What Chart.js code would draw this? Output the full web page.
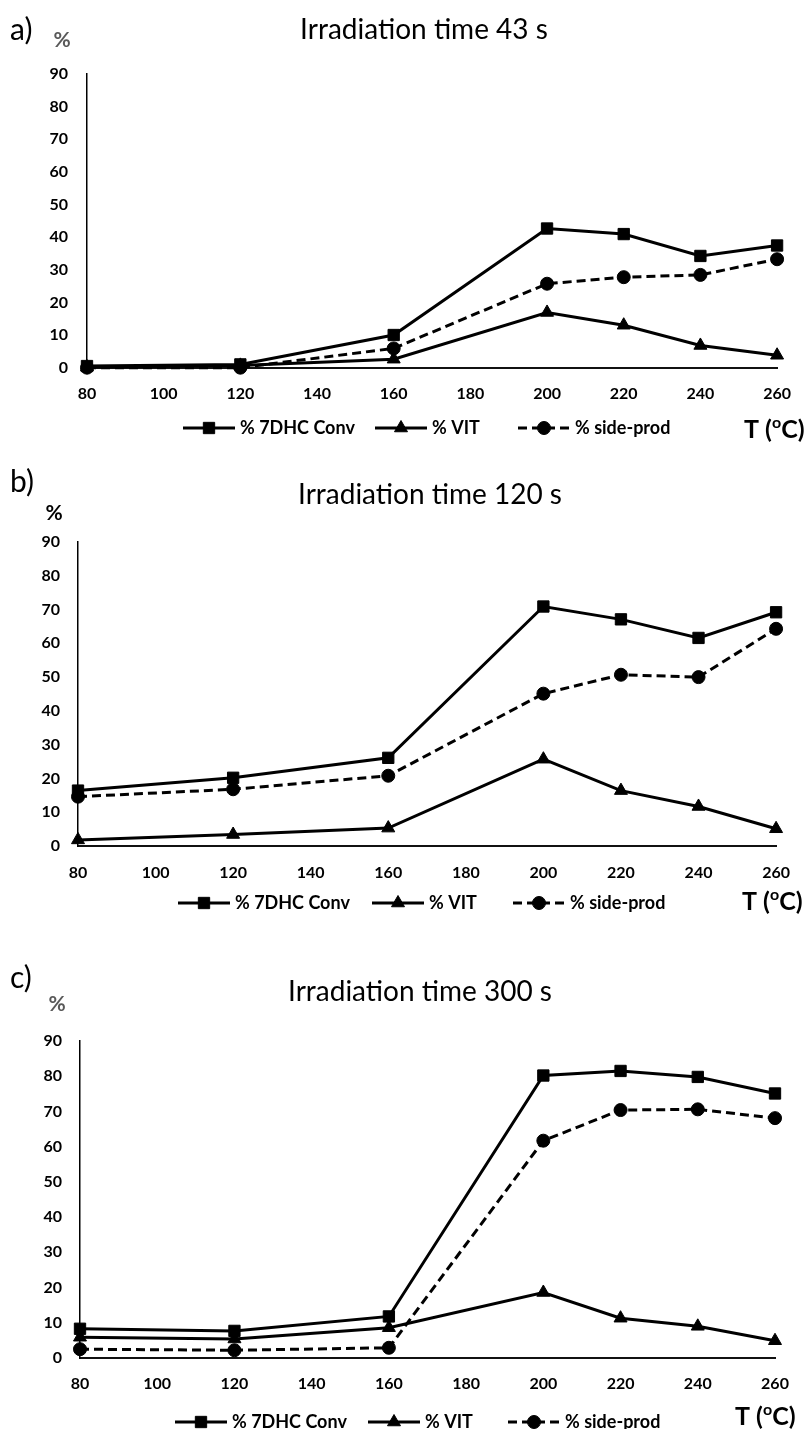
<!DOCTYPE html>
<html>
<head>
<meta charset="utf-8">
<script src="https://cdn.jsdelivr.net/npm/chart.js@4.4.1/dist/chart.umd.min.js"></script>
<style>
  body { margin: 0; background: #fff; }
  #wrap { position: relative; width: 807px; height: 1429px; }
  canvas { position: absolute; left: 0; }
</style>
</head>
<body>
<div id="wrap">
  <canvas id="chart-a" width="807" height="460" style="top:0px"></canvas>
  <canvas id="chart-b" width="807" height="490" style="top:460px"></canvas>
  <canvas id="chart-c" width="807" height="479" style="top:950px"></canvas>
</div>
<script>
'use strict';

// sample temperatures (ºC)
var temps = [80, 120, 160, 200, 220, 240, 260];
var seriesNames = ['% 7DHC Conv', '% VIT', '% side-prod'];
var titles = ['Irradiation time 43 s', 'Irradiation time 120 s', 'Irradiation time 300 s'];
var panelTags = ['a)', 'b)', 'c)'];

// a) 43 s
var conv43 = [0.6, 1.1, 10.1, 42.7, 41.0, 34.3, 37.5];
var vit43 = [0.3, 0.8, 2.7, 17.0, 13.1, 6.9, 3.9];
var side43 = [0.1, 0.1, 6.0, 25.8, 27.8, 28.5, 33.3];

// b) 120 s
var conv120 = [16.4, 20.2, 26.1, 70.9, 67.1, 61.6, 69.2];
var vit120 = [1.8, 3.4, 5.3, 25.7, 16.4, 11.7, 5.1];
var side120 = [14.6, 16.8, 20.8, 45.1, 50.7, 50.0, 64.3];

// c) 300 s
var conv300 = [8.3, 7.7, 11.8, 80.2, 81.5, 79.8, 75.1];
var vit300 = [5.9, 5.4, 8.6, 18.6, 11.3, 9.0, 4.9];
var side300 = [2.5, 2.2, 2.9, 61.7, 70.4, 70.6, 68.1];

// axis ranges
var xMin = 80, xMax = 260, xStep = 20;
var yMin = 0, yMax = 90, yStep = 10;

var FONT = 'Lato, "Open Sans", sans-serif';

// draws panel tag, title, "%" label, legend and the T (ºC) label
var decorPlugin = {
  id: 'decor',
  afterDraw: function(chart, args, o) {
    var ctx = chart.ctx;
    ctx.save();
    ctx.textBaseline = 'middle';
    ctx.textAlign = 'left';
    ctx.fillStyle = '#000';

    ctx.font = '30px ' + FONT;
    ctx.fillText(o.tag, 10, o.tagY);

    ctx.textAlign = 'center';
    ctx.font = '28px ' + FONT;
    ctx.fillText(o.title, o.titleX, o.titleY);

    ctx.font = 'bold 21px ' + FONT;
    ctx.fillStyle = o.pctColor;
    ctx.fillText('%', o.pctX, o.pctY);

    // legend
    ctx.textAlign = 'left';
    chart.data.datasets.forEach(function(ds, i) {
      var x = o.legendX[i];
      var y = o.legendY;
      ctx.strokeStyle = '#000';
      ctx.fillStyle = '#000';
      ctx.lineWidth = ds.borderWidth;
      ctx.setLineDash(ds.borderDash || []);
      ctx.beginPath();
      ctx.moveTo(x, y);
      ctx.lineTo(x + 52, y);
      ctx.stroke();
      ctx.setLineDash([]);
      ctx.lineWidth = 1;
      Chart.helpers.drawPoint(ctx, {
        pointStyle: ds.pointStyle,
        radius: ds.pointRadius,
        borderWidth: 1,
        rotation: 0
      }, x + 26, y);
      ctx.font = 'bold 18px ' + FONT;
      ctx.fillText(ds.label, x + 57, y);
    });

    // T (ºC)
    ctx.fillStyle = '#000';
    ctx.font = 'bold 25px ' + FONT;
    var tx = o.tX;
    ctx.fillText('T (', tx, o.tY);
    tx += ctx.measureText('T (').width;
    ctx.font = 'bold 16px ' + FONT;
    ctx.fillText('o', tx, o.tY - 7);
    tx += ctx.measureText('o').width;
    ctx.font = 'bold 25px ' + FONT;
    ctx.fillText('C)', tx, o.tY);
    ctx.restore();
  }
};

function toPoints(vals) {
  return temps.map(function(t, i) {
    return { x: t, y: vals[i] };
  });
}

function makeChart(id, idx, conv, vit, side, p) {
  var ctx = document.getElementById(id);
  var base = {
    borderColor: '#000',
    backgroundColor: '#000',
    pointBackgroundColor: '#000',
    pointBorderColor: '#000',
    pointBorderWidth: 1,
    borderWidth: 3,
    tension: 0,
    clip: false
  };
  return new Chart(ctx, {
    type: 'line',
    data: {
      datasets: [
        Object.assign({}, base, { label: seriesNames[0], data: toPoints(conv), pointStyle: 'rect', pointRadius: 8 }),
        Object.assign({}, base, { label: seriesNames[1], data: toPoints(vit), pointStyle: 'triangle', pointRadius: 7.5 }),
        Object.assign({}, base, { label: seriesNames[2], data: toPoints(side), pointStyle: 'circle', pointRadius: 6.5, borderDash: [9, 5] })
      ]
    },
    options: {
      responsive: false,
      animation: false,
      devicePixelRatio: 1,
      layout: {
        padding: { top: p.top, right: 807 - p.right, left: 0, bottom: 0 }
      },
      plugins: {
        legend: { display: false },
        tooltip: { enabled: false },
        decor: {
          tag: panelTags[idx],
          tagY: p.tagY,
          title: titles[idx],
          titleX: p.titleX,
          titleY: p.titleY,
          pctX: p.pctX,
          pctY: p.pctY,
          pctColor: p.pctColor,
          legendX: p.legendX,
          legendY: p.legendY,
          tX: p.tX,
          tY: p.tY
        }
      },
      scales: {
        x: {
          type: 'linear',
          min: xMin,
          max: xMax,
          ticks: {
            stepSize: xStep,
            padding: p.padX,
            color: '#000',
            maxRotation: 0,
            autoSkip: false,
            font: { family: FONT, size: 16, weight: 'bold' }
          },
          grid: { display: false, drawTicks: false },
          border: { color: '#111', width: 2 },
          afterFit: function(s) { s.height = p.height - p.bottom; }
        },
        y: {
          min: yMin,
          max: yMax,
          ticks: {
            stepSize: yStep,
            padding: p.padY,
            color: '#000',
            font: { family: FONT, size: 16, weight: 'bold' }
          },
          grid: { display: false, drawTicks: false },
          border: { color: '#000', width: 1.5 },
          afterFit: function(s) { s.width = p.left; }
        }
      }
    },
    plugins: [decorPlugin]
  });
}

makeChart('chart-a', 0, conv43, vit43, side43, {
  height: 460, left: 87, right: 780, top: 74, bottom: 368, padX: 16, padY: 19,
  tagY: 30, titleX: 424, titleY: 30, pctX: 62, pctY: 40, pctColor: '#595959',
  legendX: [183, 375, 518], legendY: 428, tX: 744, tY: 430
});

makeChart('chart-b', 1, conv120, vit120, side120, {
  height: 490, left: 78, right: 788, top: 82, bottom: 386, padX: 17, padY: 18,
  tagY: 22, titleX: 430, titleY: 35, pctX: 54, pctY: 53, pctColor: '#000',
  legendX: [178, 372, 513], legendY: 443, tX: 742, tY: 442
});

makeChart('chart-c', 2, conv300, vit300, side300, {
  height: 479, left: 80, right: 775, top: 91, bottom: 408, padX: 16, padY: 18,
  tagY: 28, titleX: 420, titleY: 42, pctX: 57, pctY: 54, pctColor: '#595959',
  legendX: [175, 368, 508], legendY: 472, tX: 735, tY: 467
});
</script>
</body>
</html>
